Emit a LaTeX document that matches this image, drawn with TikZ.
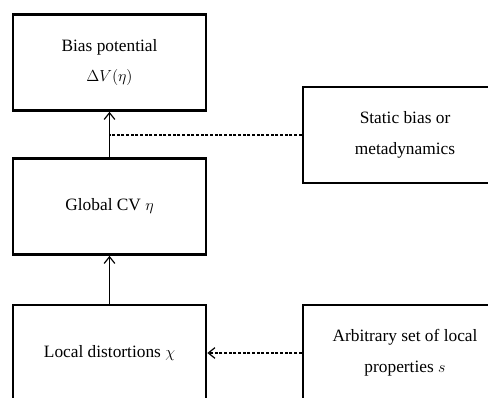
\documentclass[tikz,border=0pt]{standalone}
\usepackage{fontspec}
\setmainfont{Liberation Serif}
\usetikzlibrary{arrows.meta}
\begin{document}
\begin{tikzpicture}[x=0.75pt,y=-0.75pt,
  box/.style={draw,line width=2pt,minimum width=144.75pt,minimum height=72pt,align=center,font=\fontsize{13}{23}\selectfont,inner sep=0pt},
  rbox/.style={box,minimum width=153pt},
  conn/.style={line width=0.9pt},
  tip/.style={-{Straight Barb[length=5pt,width=8pt,line width=0.9pt]}}]
\useasboundingbox (0,0) rectangle (488,398);
\clip (0,0) rectangle (488,398);
\node[box] (bias) at (109.5,62.5) {Bias potential\\$\Delta V(\eta)$};
\node[box] (cv) at (109.5,206.5) {Global CV $\eta$};
\node[box] (loc) at (109.5,353) {Local distortions $\chi$};
\node[rbox] (stat) at (405,135) {Static bias or\\metadynamics};
\node[rbox] (arb) at (405,353) {Arbitrary set of local\\properties $s$};
\coordinate (j) at (bias.south |- stat.west);
\draw[conn,tip] (cv.north) -- (bias.south);
\draw[conn,tip] (loc.north) -- (cv.south);
\draw[conn,dashed,dash pattern=on 2.2pt off 1.3pt] (stat.west) -- (j);
\draw[conn,tip,dash pattern=on 2.2pt off 1.3pt] (arb.west) -- (loc.east);
\end{tikzpicture}
\end{document}
